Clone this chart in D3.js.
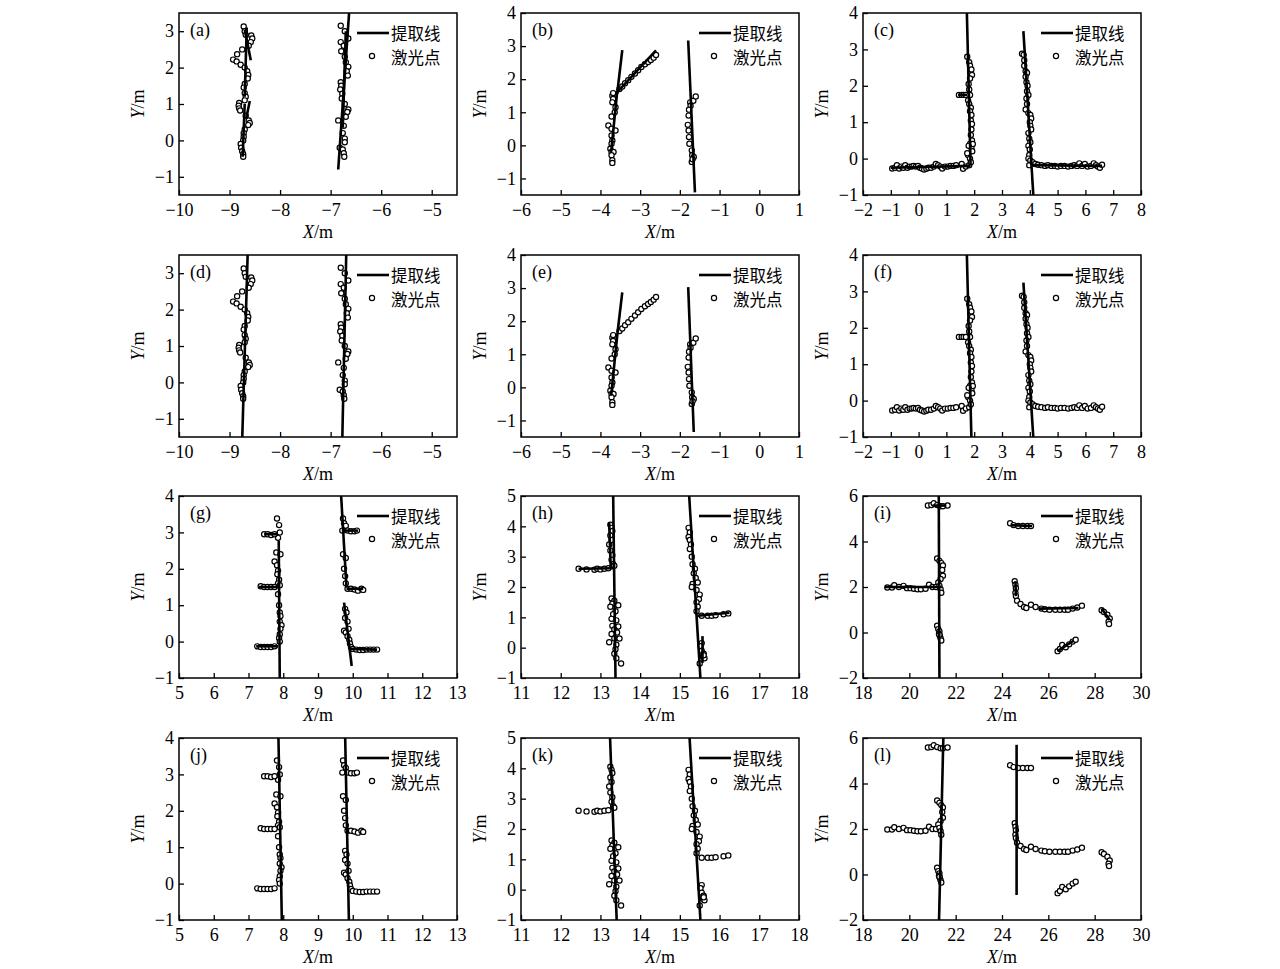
<!DOCTYPE html>
<html>
<head>
<meta charset="utf-8">
<script src="https://cdn.jsdelivr.net/npm/d3@7"></script>
<style>
  body { margin: 0; background: #fff; }
  text { fill: #000; }
  .tick text { font-family: "Liberation Serif", "Times New Roman", serif; font-size: 18px; }
  .cjk { font-family: "Noto Sans CJK SC", sans-serif; font-size: 16.5px; }
  .lbl { font-family: "Liberation Serif", "Times New Roman", serif; font-size: 18px; }
</style>
</head>
<body>
<div id="chart"></div>
<script>
// panel letters, in reading order
const panelLetters = ["a", "b", "c", "d", "e", "f", "g", "h", "i", "j", "k", "l"];

// which laser point set each panel shows (rows 1/2 and 3/4 share the scans)
const panelScene = [0, 1, 2, 0, 1, 2, 3, 4, 5, 3, 4, 5];

// axis domains and ticks per scene
const xDomains = [[-10, -4.5], [-6, 1], [-2, 8], [5, 13], [11, 18], [18, 30]];
const yDomains = [[-1.5, 3.5], [-1.5, 4], [-1, 4], [-1, 4], [-1, 5], [-2, 6]];
const xTicks = [
  [-10, -9, -8, -7, -6, -5],
  [-6, -5, -4, -3, -2, -1, 0, 1],
  [-2, -1, 0, 1, 2, 3, 4, 5, 6, 7, 8],
  [5, 6, 7, 8, 9, 10, 11, 12, 13],
  [11, 12, 13, 14, 15, 16, 17, 18],
  [18, 20, 22, 24, 26, 28, 30]
];
const yTicks = [
  [-1, 0, 1, 2, 3],
  [-1, 0, 1, 2, 3, 4],
  [-1, 0, 1, 2, 3, 4],
  [-1, 0, 1, 2, 3, 4],
  [-1, 0, 1, 2, 3, 4, 5],
  [-2, 0, 2, 4, 6]
];

// laser points (x, y) in metres
const pointsA = [
  [-8.72,3.13],[-8.7,3.0],[-8.68,2.9],[-8.57,2.88],[-8.55,2.8],[-8.58,2.7],[-8.62,2.6],[-8.75,2.5],
  [-8.85,2.37],[-8.93,2.22],[-8.86,2.17],[-8.78,2.08],[-8.7,2.0],[-8.65,1.9],[-8.63,1.8],[-8.64,1.7],
  [-8.7,1.55],[-8.72,1.45],[-8.7,1.3],[-8.68,1.2],[-8.7,1.1],[-8.81,1.03],[-8.82,0.95],[-8.81,0.88],
  [-8.79,0.82],[-8.68,0.68],[-8.62,0.55],[-8.6,0.48],[-8.63,0.42],[-8.7,0.3],[-8.72,0.2],[-8.72,0.1],
  [-8.73,0.0],[-8.78,-0.1],[-8.77,-0.2],[-8.75,-0.3],[-8.73,-0.38],[-8.73,-0.45],
  [-6.8,3.15],[-6.72,3.0],[-6.65,2.8],[-6.8,2.7],[-6.74,2.6],[-6.79,2.45],[-6.72,2.3],[-6.7,2.15],
  [-6.65,2.02],[-6.68,1.9],[-6.66,1.78],[-6.8,1.6],[-6.79,1.5],[-6.81,1.4],[-6.77,1.28],[-6.78,1.15],
  [-6.72,1.0],[-6.65,0.85],[-6.67,0.78],[-6.7,0.65],[-6.85,0.55],[-6.74,0.4],[-6.76,0.2],[-6.72,0.05],
  [-6.72,-0.05],[-6.82,-0.2],[-6.76,-0.25],[-6.74,-0.35],[-6.73,-0.45]
];
const pointsB = [
  [-3.7,1.5],[-3.68,1.4],[-3.7,1.3],[-3.62,1.15],[-3.64,1.0],[-3.72,0.87],[-3.8,0.6],[-3.72,0.5],
  [-3.62,0.45],[-3.72,0.3],[-3.7,0.15],[-3.72,0.05],[-3.75,-0.1],[-3.72,-0.2],[-3.67,-0.2],[-3.72,-0.3],
  [-3.7,-0.45],[-3.7,-0.53],[-3.68,1.58],
  [-3.52,1.7],[-3.45,1.78],[-3.38,1.88],[-3.3,1.97],[-3.22,2.07],[-3.13,2.17],[-3.05,2.27],[-2.97,2.37],
  [-2.88,2.45],[-2.8,2.52],[-2.73,2.58],[-2.66,2.65],[-2.6,2.73],
  [-1.74,1.3],[-1.66,1.35],[-1.6,1.48],[-1.73,1.2],[-1.77,1.08],[-1.78,0.9],[-1.8,0.62],[-1.78,0.45],
  [-1.77,0.25],[-1.76,0.05],[-1.7,-0.15],[-1.69,-0.3],[-1.7,-0.5],[-1.65,-0.35],[-1.68,-0.42]
];
const pointsC = [
  [-0.95,-0.27],[-0.85,-0.25],[-0.78,-0.18],[-0.7,-0.27],[-0.62,-0.22],[-0.55,-0.25],[-0.48,-0.18],
  [-0.4,-0.25],[-0.32,-0.22],[-0.25,-0.22],[-0.18,-0.2],[-0.1,-0.22],[-0.02,-0.2],[0.05,-0.25],[0.12,-0.27],
  [0.2,-0.3],[0.28,-0.28],[0.35,-0.25],[0.45,-0.25],[0.55,-0.22],[0.62,-0.15],[0.7,-0.18],[0.78,-0.22],
  [0.85,-0.27],[0.95,-0.22],[1.05,-0.22],[1.15,-0.2],[1.25,-0.2],[1.35,-0.18],[1.55,-0.15],[1.6,-0.28],
  [1.7,-0.22],[1.82,-0.18],
  [1.75,2.8],[1.82,2.65],[1.85,2.55],[1.9,2.45],[1.92,2.3],[1.85,2.2],[1.8,2.05],[1.82,1.9],[1.85,1.75],
  [1.78,1.6],[1.82,1.5],[1.88,1.4],[1.85,1.3],[1.9,1.2],[1.88,1.05],[1.92,0.95],[1.9,0.8],[1.88,0.65],
  [1.92,0.5],[1.85,0.4],[1.9,0.3],[1.93,0.2],[1.78,0.1],[1.85,0.0],[1.88,-0.1],[1.95,0.4],[1.8,0.35],
  [1.75,0.15],
  [1.45,1.75],[1.55,1.75],[1.62,1.75],[1.7,1.75],
  [3.72,2.88],[3.78,2.85],[3.8,2.7],[3.8,2.55],[3.85,2.4],[3.9,2.35],[3.85,2.25],[3.88,2.1],[3.92,2.0],
  [3.9,1.85],[3.95,1.75],[3.88,1.65],[3.9,1.5],[3.85,1.35],[3.95,1.25],[4.02,1.2],[4.05,1.1],[4.0,1.0],
  [4.02,0.9],[4.05,0.8],[3.95,0.7],[3.98,0.55],[4.02,0.45],[3.95,0.35],[4.0,0.25],[3.98,0.1],[3.95,0.0],
  [4.02,-0.05],[3.98,-0.18],
  [4.1,-0.1],[4.2,-0.15],[4.3,-0.17],[4.42,-0.18],[4.55,-0.2],[4.65,-0.18],[4.78,-0.2],[4.9,-0.2],
  [5.0,-0.22],[5.12,-0.2],[5.25,-0.2],[5.38,-0.22],[5.5,-0.2],[5.6,-0.18],[5.7,-0.2],[5.78,-0.13],
  [5.88,-0.2],[5.98,-0.15],[6.08,-0.22],[6.2,-0.2],[6.3,-0.13],[6.38,-0.18],[6.45,-0.22],[6.52,-0.25],
  [6.6,-0.17]
];
const pointsG = [
  [7.82,3.38],[7.88,3.2],[7.9,3.0],[7.85,2.85],[7.8,2.45],[7.92,2.4],[7.75,2.2],[7.82,2.1],[7.85,1.95],
  [7.83,1.85],[7.88,1.7],[7.85,1.6],[7.9,1.55],[7.85,1.3],[7.88,1.0],[7.9,0.8],[7.92,0.7],[7.9,0.55],
  [7.95,0.45],[7.92,0.35],[7.9,0.2],[7.88,0.1],[7.9,0.0],
  [7.45,2.95],[7.55,2.95],[7.65,2.93],[7.75,2.95],
  [7.35,1.52],[7.45,1.5],[7.55,1.5],[7.65,1.5],[7.75,1.5],
  [7.25,-0.13],[7.35,-0.15],[7.45,-0.15],[7.55,-0.15],[7.65,-0.15],[7.75,-0.13],
  [9.72,3.38],[9.75,3.25],[9.8,3.18],[9.7,3.05],[9.72,2.4],[9.8,2.3],[9.75,2.0],[9.78,1.8],[9.8,1.6],
  [9.85,3.05],[9.95,3.03],[10.05,3.03],[10.12,3.05],
  [9.85,1.45],[9.95,1.45],[10.05,1.43],[10.15,1.4],[10.25,1.45],[10.3,1.42],
  [9.78,0.9],[9.82,0.8],[9.78,0.65],[9.85,0.55],[9.75,0.3],[9.8,0.25],[9.88,0.35],[9.85,0.15],
  [9.9,0.05],[9.92,-0.05],[9.95,-0.15],
  [10.0,-0.2],[10.1,-0.22],[10.2,-0.23],[10.3,-0.23],[10.4,-0.22],[10.5,-0.22],[10.6,-0.22],[10.7,-0.22]
];
const pointsH = [
  [13.25,4.05],[13.28,3.95],[13.3,3.85],[13.25,3.7],[13.28,3.55],[13.22,3.4],[13.25,3.2],[13.3,3.05],
  [13.28,2.9],[13.32,2.75],[13.35,2.7],
  [12.45,2.6],[12.65,2.58],[12.85,2.57],[12.92,2.6],[13.0,2.58],[13.1,2.6],[13.2,2.62],
  [13.28,1.62],[13.35,1.55],[13.3,1.45],[13.25,1.35],[13.45,1.4],[13.38,1.2],[13.32,1.1],[13.28,0.95],
  [13.4,0.9],[13.3,0.72],[13.45,0.7],[13.35,0.6],[13.42,0.5],[13.28,0.45],[13.35,0.3],[13.48,0.3],
  [13.22,0.18],[13.4,0.1],[13.38,-0.05],[13.35,-0.2],[13.4,-0.35],[13.52,-0.52],
  [15.22,3.95],[15.25,3.8],[15.22,3.65],[15.25,3.55],[15.28,3.4],[15.25,3.25],[15.3,3.0],[15.32,2.75],
  [15.38,2.6],[15.35,2.45],[15.4,2.3],[15.32,2.1],[15.3,2.0],[15.45,2.15],[15.42,1.9],[15.5,1.75],
  [15.48,1.6],[15.42,1.5],[15.45,1.35],[15.42,1.2],
  [15.55,1.05],[15.7,1.05],[15.8,1.05],[15.9,1.07],[16.1,1.1],[16.22,1.13],
  [15.55,0.15],[15.52,0.05],[15.55,-0.1],[15.6,-0.2],[15.58,-0.3],[15.62,-0.35],[15.5,-0.52],[15.6,-0.25]
];
const pointsI = [
  [19.05,1.98],[19.25,1.98],[19.35,2.08],[19.55,2.0],[19.75,2.05],[19.9,1.95],[20.05,1.95],[20.2,1.92],
  [20.35,1.9],[20.5,1.9],[20.7,1.92],[20.85,2.1],[21.0,2.0],[21.15,2.0],
  [20.8,5.58],[20.95,5.6],[21.05,5.68],[21.2,5.6],[21.35,5.55],[21.45,5.55],[21.65,5.58],
  [21.2,3.25],[21.3,3.15],[21.38,3.05],[21.45,2.95],[21.42,2.75],[21.45,2.5],[21.35,2.35],[21.25,2.2],
  [21.3,2.05],[21.35,1.9],[21.38,1.75],[21.2,0.3],[21.25,0.15],[21.3,0.05],[21.28,-0.05],[21.32,-0.15],
  [21.35,-0.25],[21.38,-0.35],[21.3,-0.1],
  [24.35,4.8],[24.5,4.72],[24.7,4.68],[24.9,4.68],[25.1,4.68],[25.25,4.68],
  [24.55,2.25],[24.58,2.1],[24.6,1.95],[24.58,1.75],[24.6,1.6],
  [24.65,1.4],[24.8,1.25],[24.95,1.12],[25.05,1.08],[25.25,1.22],[25.45,1.12],[25.7,1.05],[25.85,1.02],
  [26.05,1.0],[26.3,1.0],[26.5,1.0],[26.7,1.0],[26.85,1.0],[27.05,1.05],[27.25,1.1],[27.45,1.18],
  [28.3,0.98],[28.4,0.9],[28.55,0.78],[28.65,0.62],[28.6,0.47],[28.62,0.37],
  [26.4,-0.82],[26.5,-0.72],[26.6,-0.55],[26.75,-0.65],[26.9,-0.52],[27.05,-0.4],[27.18,-0.32]
];
const scenePoints = [pointsA, pointsB, pointsC, pointsG, pointsH, pointsI];

// extracted lines per panel (x1, y1, x2, y2) in metres
const panelLines = [
  [[-8.74,-0.45,-8.7,1.0],[-8.67,0.6,-8.6,1.08],[-8.7,1.2,-8.66,3.1],[-8.7,3.05,-8.58,2.2],
   [-6.85,-0.8,-6.63,3.6],[-6.76,0.35,-6.7,3.0]],
  [[-3.73,-0.2,-3.58,1.6],[-3.58,1.55,-3.45,2.88],[-3.6,1.58,-2.6,2.87],[-1.79,3.17,-1.62,-1.42]],
  [[1.73,4.2,1.87,-0.18],[-1.0,-0.25,1.87,-0.2],[1.42,1.75,1.75,1.75],[3.77,3.5,4.13,-1.05],
   [4.05,-0.18,6.6,-0.2]],
  [[-8.75,-1.6,-8.64,3.6],[-6.77,-1.6,-6.69,3.6]],
  [[-3.73,-0.25,-3.57,1.65],[-3.57,1.65,-3.45,2.87],[-1.79,3.03,-1.65,-1.35]],
  [[1.73,4.2,1.9,-1.05],[3.77,3.24,4.13,-1.05]],
  [[7.87,2.78,7.9,-1.05],[7.45,2.95,7.85,2.95],[7.3,1.5,7.85,1.5],[7.22,-0.13,7.85,-0.13],
   [9.66,4.1,9.82,1.48],[9.82,1.45,10.3,1.45],[9.75,3.05,10.15,3.05],[9.75,1.07,9.97,-0.67],
   [9.9,-0.2,10.7,-0.22]],
  [[13.32,5.1,13.38,-1.05],[13.22,4.12,13.26,2.64],[12.45,2.6,13.35,2.62],[15.23,5.1,15.52,-1.05],
   [15.45,1.05,16.25,1.15],[15.57,0.38,15.57,-0.5]],
  [[21.27,6.1,21.3,-2.1],[18.95,2.0,21.4,2.0],[21.0,5.58,21.6,5.58],[24.4,4.72,25.3,4.68],
   [24.58,2.25,24.6,1.6],[25.6,1.05,27.3,1.08],[28.3,1.05,28.65,0.55],[26.4,-0.82,27.1,-0.35]],
  [[7.86,4.1,7.96,-1.05],[9.78,4.1,9.89,-1.05]],
  [[13.24,5.1,13.41,-1.05],[15.24,5.1,15.52,-1.05]],
  [[21.47,6.1,21.28,-2.1],[24.63,5.7,24.63,-0.9]]
];

const legendLabels = ["提取线", "激光点"];

// layout
const width = 1280, height = 969;
const colLeft = [179, 521, 863],
    rowTop = [13, 255, 496, 738],
    pw = 278, ph = 182;

const svg = d3.select("#chart").append("svg")
    .attr("width", width)
    .attr("height", height);

panelLetters.forEach(function(letter, i) {
  let col = i % 3, row = Math.floor(i / 3);
  let s = panelScene[i];
  let g = svg.append("g")
      .attr("transform", `translate(${colLeft[col]},${rowTop[row]})`);

  let x = d3.scaleLinear().domain(xDomains[s]).range([0, pw]);
  let y = d3.scaleLinear().domain(yDomains[s]).range([ph, 0]);

  // clip for marks
  g.append("clipPath").attr("id", "clip" + i)
    .append("rect").attr("width", pw).attr("height", ph);

  // axes with inward ticks
  let xAxis = d3.axisBottom(x).tickValues(xTicks[s]).tickSize(-5).tickPadding(8)
      .tickFormat(d3.format("d"));
  let yAxis = d3.axisLeft(y).tickValues(yTicks[s]).tickSize(-5).tickPadding(5)
      .tickFormat(d3.format("d"));

  g.append("g").attr("transform", `translate(0,${ph})`).call(xAxis)
    .call(a => a.select(".domain").remove())
    .call(a => a.selectAll(".tick line").attr("stroke-width", 1.3));
  g.append("g").call(yAxis)
    .call(a => a.select(".domain").remove())
    .call(a => a.selectAll(".tick line").attr("stroke-width", 1.3));

  // marks
  let marks = g.append("g").attr("clip-path", `url(#clip${i})`);

  marks.selectAll("circle")
    .data(scenePoints[s])
    .join("circle")
      .attr("cx", d => x(d[0]))
      .attr("cy", d => y(d[1]))
      .attr("r", 2.6)
      .attr("fill", "#fff")
      .attr("stroke", "#000")
      .attr("stroke-width", 1.2);

  marks.selectAll("line")
    .data(panelLines[i])
    .join("line")
      .attr("x1", d => x(d[0]))
      .attr("y1", d => y(d[1]))
      .attr("x2", d => x(d[2]))
      .attr("y2", d => y(d[3]))
      .attr("stroke", "#000")
      .attr("stroke-width", 2.6);

  // frame
  g.append("rect")
    .attr("width", pw).attr("height", ph)
    .attr("fill", "none")
    .attr("stroke", "#000")
    .attr("stroke-width", 1.5);

  // panel letter
  g.append("text")
    .attr("class", "lbl")
    .attr("x", 11).attr("y", 23)
    .text(`(${letter})`);

  // legend
  let lg = g.append("g").attr("transform", `translate(${pw - 100},0)`);
  lg.append("line")
    .attr("x1", 0).attr("x2", 32)
    .attr("y1", 20).attr("y2", 20)
    .attr("stroke", "#000").attr("stroke-width", 2.6);
  lg.append("circle")
    .attr("cx", 15).attr("cy", 43).attr("r", 2.6)
    .attr("fill", "#fff").attr("stroke", "#000").attr("stroke-width", 1.2);
  lg.selectAll("text.cjk")
    .data(legendLabels)
    .join("text")
      .attr("class", "cjk")
      .attr("x", 34)
      .attr("y", (d, k) => 27 + k * 24)
      .text(d => d);

  // axis titles
  g.append("text")
    .attr("class", "lbl")
    .attr("x", pw / 2).attr("y", ph + 43)
    .attr("text-anchor", "middle")
    .html('<tspan font-style="italic">X</tspan>/m');
  g.append("text")
    .attr("class", "lbl")
    .attr("transform", `translate(-41,${ph / 2}) rotate(-90)`)
    .attr("dy", "0.35em")
    .attr("text-anchor", "middle")
    .html('<tspan font-style="italic">Y</tspan>/m');
});
</script>
</body>
</html>
